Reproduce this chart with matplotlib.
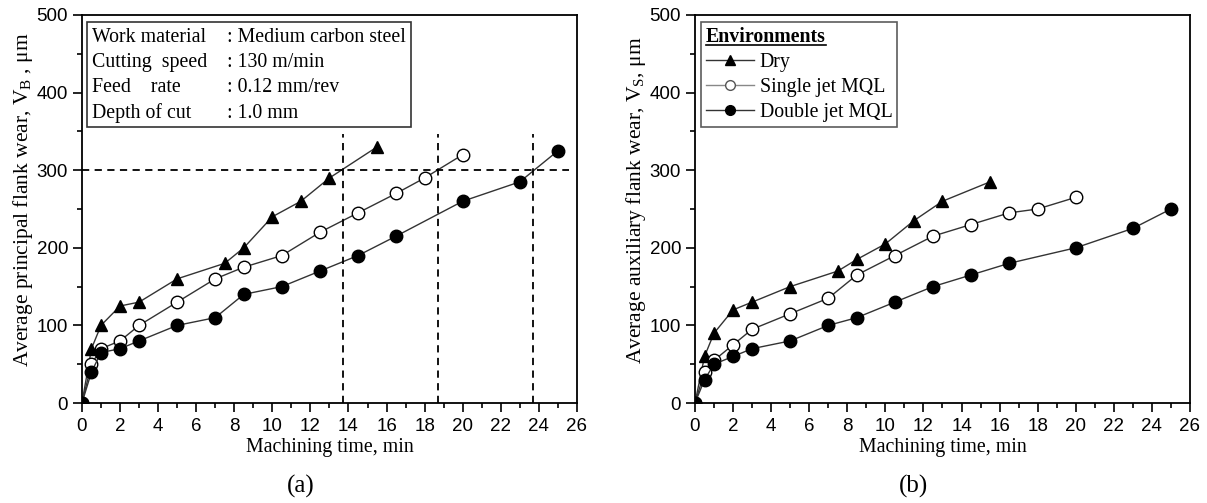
import matplotlib
matplotlib.use("Agg")
import matplotlib.pyplot as plt
from matplotlib.ticker import MultipleLocator
from matplotlib.lines import Line2D

# panel (a): principal flank wear
dry_t = [0, 0.5, 1, 2, 3, 5, 7.5, 8.5, 10, 11.5, 13, 15.5]
dry_vb = [0, 70, 100, 125, 130, 160, 180, 200, 240, 260, 290, 330]
single_t = [0, 0.5, 1, 2, 3, 5, 7, 8.5, 10.5, 12.5, 14.5, 16.5, 18, 20]
single_vb = [0, 50, 70, 80, 100, 130, 160, 175, 190, 220, 245, 270, 290, 320]
double_t = [0, 0.5, 1, 2, 3, 5, 7, 8.5, 10.5, 12.5, 14.5, 16.5, 20, 23, 25]
double_vb = [0, 40, 65, 70, 80, 100, 110, 140, 150, 170, 190, 215, 260, 285, 325]

# panel (b): auxiliary flank wear
dry_vs = [0, 60, 90, 120, 130, 150, 170, 185, 205, 235, 260, 285]
single_vs = [0, 40, 55, 75, 95, 115, 135, 165, 190, 215, 230, 245, 250, 265]
double_vs = [0, 30, 50, 60, 70, 80, 100, 110, 130, 150, 165, 180, 200, 225, 250]

limit_vb = 300
limit_end = 25.6
tool_life = [13.7, 18.7, 23.7]
vline_top = 346

conditions = [("Work material", ": Medium carbon steel"),
              ("Cutting  speed", ": 130 m/min"),
              ("Feed    rate", ": 0.12 mm/rev"),
              ("Depth of cut", ": 1.0 mm")]

serif = "Liberation Serif"
sans = "Liberation Sans"
fs = 14.3

fig = plt.figure(figsize=(12.07, 5.03), dpi=100)
ax1 = fig.add_axes([0.0679, 0.1988, 0.4101, 0.7714])
ax2 = fig.add_axes([0.5758, 0.1988, 0.4101, 0.7714])

line_kw = dict(color="#333333", lw=1.0, markersize=9, markeredgecolor="black")


def style(ax, ylabel):
    ax.set_xlim(0, 26)
    ax.set_ylim(0, 500)
    ax.xaxis.set_major_locator(MultipleLocator(2))
    ax.xaxis.set_minor_locator(MultipleLocator(1))
    ax.yaxis.set_major_locator(MultipleLocator(100))
    ax.yaxis.set_minor_locator(MultipleLocator(50))
    ax.tick_params(which="major", direction="out", length=6.5, width=1.2,
                   labelsize=13.5, top=False, right=False)
    ax.tick_params(axis="x", which="major", pad=4.5)
    ax.tick_params(axis="y", which="major", pad=3.5)
    ax.tick_params(which="minor", direction="out", length=3.6, width=1.2,
                   top=False, right=False)
    for lab in ax.get_xticklabels() + ax.get_yticklabels():
        lab.set_fontfamily(sans)
    for sp in ax.spines.values():
        sp.set_linewidth(1.3)
    ax.set_xlabel("Machining time, min", fontfamily=serif, fontsize=fs, labelpad=2)
    ax.set_ylabel(ylabel, fontfamily=serif, fontsize=15.5, labelpad=1)
    ax.yaxis.label.set_y(0.523)


# (a)
ax1.plot(dry_t, dry_vb, marker="^", markerfacecolor="black", **line_kw)
ax1.plot(single_t, single_vb, marker="o", markerfacecolor="white", **line_kw)
ax1.plot(double_t, double_vb, marker="o", markerfacecolor="black", **line_kw)
ax1.plot([0, limit_end], [limit_vb, limit_vb], color="black", ls=(0, (4, 3)), lw=1.3)
for t in tool_life:
    ax1.plot([t, t], [0, vline_top], color="black", ls=(0, (4, 3)), lw=1.3)
style(ax1, r"Average principal flank wear, V$_\mathregular{B}$ , μm")

ax1.add_patch(plt.Rectangle((0.01, 0.711), 0.655, 0.271, transform=ax1.transAxes,
                            fill=False, edgecolor="#333333", lw=1.2))
for i, (k, v) in enumerate(conditions):
    y = 0.943 - i * 0.0653
    ax1.text(0.02, y, k, transform=ax1.transAxes, fontfamily=serif,
             fontsize=fs, va="center")
    ax1.text(0.293, y, v, transform=ax1.transAxes, fontfamily=serif,
             fontsize=fs, va="center")

# (b)
ax2.plot(dry_t, dry_vs, marker="^", markerfacecolor="black", **line_kw)
ax2.plot(single_t, single_vs, marker="o", markerfacecolor="white", **line_kw)
ax2.plot(double_t, double_vs, marker="o", markerfacecolor="black", **line_kw)
style(ax2, r"Average auxiliary flank wear, V$_\mathregular{S}$, μm")

handles = [Line2D([], [], color="#333333", lw=1.0, marker="^", markersize=7,
                  markerfacecolor="black", markeredgecolor="black"),
           Line2D([], [], color="#888888", lw=1.0, marker="o", markersize=7,
                  markerfacecolor="white", markeredgecolor="#555555"),
           Line2D([], [], color="#333333", lw=1.0, marker="o", markersize=7,
                  markerfacecolor="black", markeredgecolor="black")]
leg = ax2.legend(handles, ["Dry", "Single jet MQL", "Double jet MQL"],
                 loc="upper left", bbox_to_anchor=(0.012, 0.982),
                 title="Environments", alignment="left",
                 prop={"family": serif, "size": fs},
                 title_fontproperties={"family": serif, "size": fs, "weight": "bold"},
                 frameon=True, fancybox=False, edgecolor="#333333",
                 handlelength=2.4, handletextpad=0.3, labelspacing=0.3,
                 borderpad=0.25, borderaxespad=0)
leg.get_frame().set_linewidth(1.2)

fig.text(0.249, 0.032, "(a)", fontfamily=serif, fontsize=18, ha="center", va="center")
fig.text(0.757, 0.032, "(b)", fontfamily=serif, fontsize=18, ha="center", va="center")

# underline the legend title
fig.canvas.draw()
bb = leg.get_title().get_window_extent().transformed(fig.transFigure.inverted())
fig.add_artist(Line2D([bb.x0, bb.x1], [bb.y0 + 0.003, bb.y0 + 0.003],
                      transform=fig.transFigure, color="black", lw=1.2))

fig.savefig("out.png", dpi=100)
